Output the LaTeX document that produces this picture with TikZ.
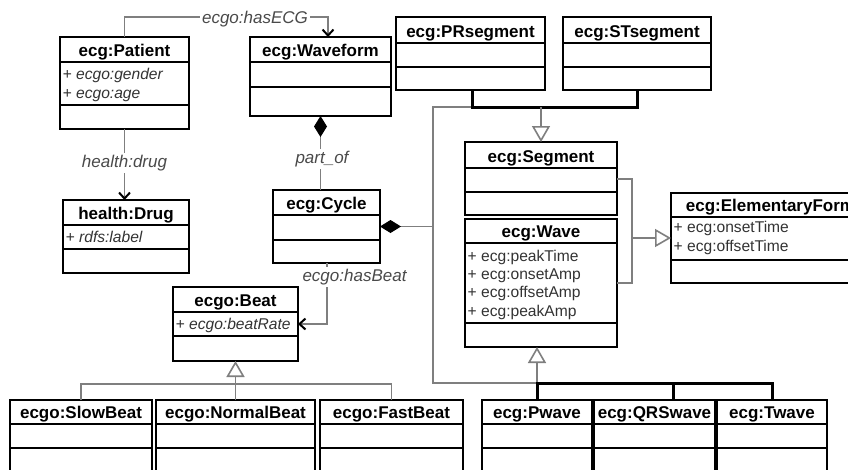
\documentclass[tikz,border=0pt]{standalone}
\usepackage{fontspec}
\setmainfont{Liberation Sans}
\usetikzlibrary{arrows.meta,calc}

\definecolor{conncol}{HTML}{7F7F7F}
\definecolor{lblcol}{HTML}{4A4A4A}
\definecolor{attrcol}{HTML}{333333}

\tikzset{
  clsbox/.style={draw=black, line width=2pt, inner sep=0pt, outer sep=0pt, anchor=north west, fill=white},
  sepline/.style={draw=black, line width=2pt},
  ttl/.style={font=\bfseries\fontsize{17}{20}\selectfont, inner sep=0pt, anchor=base},
  attrI/.style={font=\itshape\fontsize{15.6}{18}\selectfont, text=attrcol, anchor=base west, inner sep=0pt},
  attrR/.style={font=\fontsize{15.6}{18}\selectfont, text=attrcol, anchor=base west, inner sep=0pt},
  connline/.style={draw=conncol, line width=1.8pt},
  thickline/.style={draw=black, line width=3pt},
  lab/.style={font=\itshape\fontsize{17}{20}\selectfont, text=lblcol, fill=white, inner sep=2pt, anchor=base},
  gen/.style={-{Triangle[open, length=16pt, width=18pt, fill=white, line width=1.6pt]}},
  comp/.style={{Diamond[length=21pt, width=13pt, fill=black, color=black]}-},
  assoc/.style={-{Straight Barb[length=6pt, width=11pt, color=black, line width=2pt]}},
}

% name, x1, y1, x2, y2, sep1, sep2, title
\newcommand{\umlcls}[8]{%
  \node[clsbox, minimum width={(#4-#2)*1pt}, minimum height={(#5-#3)*1pt}] (#1) at (#2,#3) {};
  \draw[sepline] (#2,#6) -- (#4,#6);
  \draw[sepline] (#2,#7) -- (#4,#7);
  \node[ttl] (#1-t) at ({(#2+#4)/2},{#6-5.5}) {#8};
}

\begin{document}
\begin{tikzpicture}[x=1pt, y=-1pt]
\useasboundingbox (0,0) rectangle (848,469);
\clip (0,0) rectangle (848,469);
\fill[white] (0,0) rectangle (848,469);

% classes
\umlcls{pat}{60}{37}{189}{129}{62}{105}{ecg:Patient}
\node[attrI] (pat-a1) at (62.5,79) {+ ecgo:gender};
\node[attrI] (pat-a2) at (62.5,98) {+ ecgo:age};

\umlcls{wf}{250}{37}{391}{116}{62}{87}{ecg:Waveform}
\umlcls{pr}{396}{17}{545}{90}{43}{67}{ecg:PRsegment}
\umlcls{st}{563}{17}{711}{90}{43}{67}{ecg:STsegment}

\umlcls{drug}{63}{200}{189}{273}{225}{249}{health:Drug}
\node[attrI] (drug-a1) at (65.5,242) {+ rdfs:label};

\umlcls{cyc}{273}{190}{380}{263}{215}{240}{ecg:Cycle}

\umlcls{seg}{465}{142}{617}{215}{168}{192}{ecg:Segment}
\umlcls{wave}{465}{219}{617}{347}{243}{323}{ecg:Wave}
\node[attrR] (wave-a1) at (467.5,261) {+ ecg:peakTime};
\node[attrR] (wave-a2) at (467.5,279.3) {+ ecg:onsetAmp};
\node[attrR] (wave-a3) at (467.5,297.6) {+ ecg:offsetAmp};
\node[attrR] (wave-a4) at (467.5,316) {+ ecg:peakAmp};

\umlcls{ef}{671}{193}{870}{283}{217}{260}{ecg:ElementaryForm}
\node[attrR] (ef-a1) at (673.5,232) {+ ecg:onsetTime};
\node[attrR] (ef-a2) at (673.5,251) {+ ecg:offsetTime};

\umlcls{beat}{173}{287}{298}{361}{312}{336}{ecgo:Beat}
\node[attrI] (beat-a1) at (175.5,329) {+ ecgo:beatRate};

\umlcls{slow}{10}{400}{152}{490}{424}{448}{ecgo:SlowBeat}
\umlcls{norm}{156}{400}{315}{490}{424}{448}{ecgo:NormalBeat}
\umlcls{fast}{320}{400}{463}{490}{424}{448}{ecgo:FastBeat}
\umlcls{pw}{482}{400}{592}{490}{424}{448}{ecg:Pwave}
\umlcls{qrs}{594}{400}{715}{490}{424}{448}{ecg:QRSwave}
\umlcls{tw}{717}{400}{827}{490}{424}{448}{ecg:Twave}

% helper coordinates
\coordinate (h1) at (124.5,17);
\coordinate (h2) at (328,17);
\coordinate (v1) at (433,107);
\coordinate (v2) at (433,383);
\coordinate (sb) at (472,107);
\coordinate (se) at (637,107);
\coordinate (e1) at (632,179);
\coordinate (e2) at (632,283);
\coordinate (bh) at (235.5,384);
\coordinate (wh) at (537,383);
\coordinate (qh) at (673,383);
\coordinate (bb) at (327,324);

% hasECG
\draw[connline, assoc] (pat.north) -- (h1) -- (h2) -- (h2 |- wf.north);
% health:drug
\draw[connline, assoc] (pat.south) -- (pat.south |- drug.north);
% part_of
\draw[connline, comp] (wf.south) -- (wf.south |- cyc.north);
% Cycle composition
\draw[connline, comp] (cyc.east) -- (cyc.east -| v1);
\draw[connline] (sb) -- (v1) -- (v2) -- (wh);
% hasBeat
\draw[connline, assoc] (bb |- cyc.south) -- (bb) -- (bb -| beat.east);

% segment generalisation
\draw[thickline] (sb |- pr.south) -- (sb) -- (se) -- (se |- st.south);
\draw[connline, gen] (seg.north |- sb) -- (seg.north);

% segment / wave -> elementary form
\draw[connline] (seg.east |- e1) -- (e1) -- (e2) -- (wave.east |- e2);
\draw[connline, gen] (ef.west -| e1) -- (ef.west);

% beat generalisation
\draw[connline, gen] (bh) -- (beat.south);
\draw[connline] (slow.north) -- (slow.north |- bh) -- (fast.north |- bh) -- (fast.north);
\draw[connline] (norm.north) -- (bh);

% wave generalisation
\draw[connline, gen] (wh) -- (wh |- wave.south);
\draw[thickline] (pw.north) -- (wh) -- (tw.north |- wh) -- (tw.north);
\draw[thickline] (qh) -- (qh |- qrs.north);

% labels
\node[lab] (l-ecg) at (255,23) {ecgo:hasECG};
\node[lab] (l-drug) at (124.5,167) {health:drug};
\node[lab] (l-part) at (322,163) {part\_of};
\node[lab] (l-beat) at (354.5,281) {ecgo:hasBeat};
\end{tikzpicture}
\end{document}
